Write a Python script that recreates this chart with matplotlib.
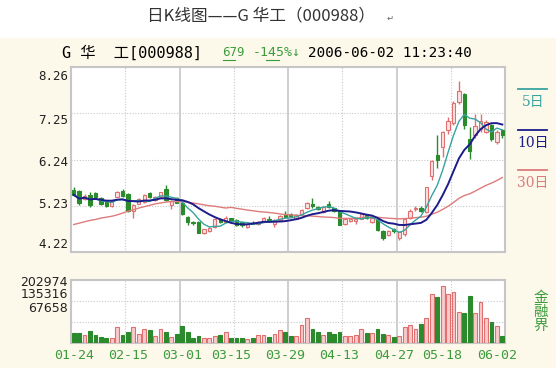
import matplotlib
matplotlib.use("Agg")
import matplotlib.pyplot as plt
import pandas as pd
from matplotlib.lines import Line2D
from matplotlib.patches import Rectangle

plt.rcParams['font.family'] = ['DejaVu Sans', 'Noto Sans CJK SC']

# daily bars 01-24 .. 06-02, 80 sessions
opens = [5.58, 5.55, 5.37, 5.47, 5.50, 5.41, 5.32, 5.22, 5.43, 5.56,
         5.48, 5.11, 5.27, 5.32, 5.50, 5.36, 5.42, 5.59, 5.25, 5.40,
         5.30, 4.98, 4.87, 4.88, 4.63, 4.68, 4.76, 4.95, 4.88, 4.96,
         4.92, 4.87, 4.76, 4.86, 4.83, 4.88, 4.94, 4.84, 4.92, 5.06,
         5.05, 4.95, 5.03, 5.18, 5.26, 5.21, 5.09, 5.26, 5.18, 5.11,
         4.84, 4.89, 4.90, 4.95, 5.03, 4.88, 4.93, 4.68, 4.60, 4.72,
         4.52, 4.62, 4.97, 5.15, 5.19, 5.10, 5.88, 6.34, 6.52, 6.88,
         7.03, 7.50, 7.68, 6.68, 6.78, 6.90, 6.85, 6.99, 6.63, 6.88]
highs = [5.65, 5.58, 5.48, 5.52, 5.52, 5.43, 5.34, 5.34, 5.56, 5.60,
         5.50, 5.27, 5.39, 5.49, 5.53, 5.45, 5.54, 5.69, 5.35, 5.42,
         5.31, 5.00, 4.89, 4.89, 4.73, 4.76, 4.96, 4.97, 5.00, 4.97,
         4.94, 4.89, 4.86, 4.90, 4.89, 4.98, 5.00, 4.93, 5.02, 5.12,
         5.08, 5.05, 5.15, 5.31, 5.41, 5.23, 5.22, 5.33, 5.19, 5.13,
         4.96, 4.97, 4.97, 5.07, 5.05, 4.98, 4.95, 4.70, 4.71, 4.75,
         4.68, 4.96, 5.15, 5.23, 5.22, 5.65, 6.22, 6.77, 6.86, 7.17,
         7.52, 7.96, 7.70, 6.95, 7.24, 7.24, 7.10, 7.02, 6.88, 6.90]
lows = [5.44, 5.25, 5.35, 5.20, 5.40, 5.24, 5.21, 5.20, 5.42, 5.43,
        5.09, 4.96, 5.26, 5.30, 5.41, 5.34, 5.40, 5.34, 5.16, 5.28,
        5.02, 4.82, 4.82, 4.63, 4.61, 4.66, 4.75, 4.85, 4.87, 4.88,
        4.78, 4.77, 4.74, 4.83, 4.81, 4.87, 4.90, 4.77, 4.91, 4.98,
        4.98, 4.93, 5.01, 5.16, 5.19, 5.14, 5.07, 5.18, 5.10, 4.80,
        4.82, 4.88, 4.84, 4.93, 4.93, 4.85, 4.67, 4.48, 4.58, 4.64,
        4.49, 4.58, 4.95, 5.12, 5.10, 5.08, 5.80, 6.05, 6.30, 6.80,
        7.00, 7.45, 6.90, 6.26, 6.72, 6.85, 6.82, 6.65, 6.58, 6.70]
closes = [5.47, 5.30, 5.45, 5.25, 5.43, 5.26, 5.23, 5.33, 5.54, 5.45,
          5.11, 5.25, 5.37, 5.47, 5.43, 5.43, 5.52, 5.36, 5.34, 5.30,
          5.04, 4.88, 4.85, 4.64, 4.72, 4.75, 4.94, 4.87, 4.97, 4.90,
          4.80, 4.80, 4.84, 4.84, 4.87, 4.96, 4.92, 4.92, 5.00, 4.99,
          5.00, 5.03, 5.13, 5.29, 5.22, 5.16, 5.20, 5.20, 5.12, 4.82,
          4.94, 4.95, 4.95, 5.05, 4.96, 4.96, 4.70, 4.52, 4.68, 4.68,
          4.66, 4.93, 5.12, 5.19, 5.12, 5.63, 6.20, 6.23, 6.83, 7.08,
          7.48, 7.74, 6.99, 6.42, 6.98, 7.08, 7.05, 6.68, 6.84, 6.78]
volumes = [33800, 33800, 25000, 38000, 25000, 20000, 17000, 15000, 51000, 25000,
           34000, 51000, 30000, 46000, 42000, 22000, 46000, 34000, 20000, 30000,
           56000, 34000, 15000, 24000, 16000, 16000, 24000, 25000, 34000, 16000,
           16000, 16000, 13000, 17000, 25000, 27000, 20000, 30000, 41000, 34000,
           24000, 24000, 57000, 80000, 46000, 34000, 27000, 34000, 29000, 36000,
           23000, 23000, 27000, 44000, 33000, 33000, 46000, 29000, 27000, 20000,
           24000, 50000, 57000, 46000, 62000, 80000, 157000, 149000, 183000, 157000,
           165000, 101000, 97000, 153000, 97000, 131000, 79000, 68000, 54000, 24000]
# 30-day average for the first 29 sessions (its history is off the chart)
ma30_head = [4.82, 4.85, 4.88, 4.91, 4.93, 4.96, 4.98, 5.00, 5.03, 5.07,
             5.11, 5.14, 5.18, 5.21, 5.24, 5.27, 5.29, 5.31, 5.32, 5.32,
             5.32, 5.31, 5.29, 5.27, 5.25, 5.23, 5.22, 5.20, 5.18]

date_labels = ['01-24', '02-15', '03-01', '03-15', '03-29',
               '04-13', '04-27', '05-18', '06-02']
date_pos = [0, 10, 20, 29, 39, 49, 59, 68, 78]
price_labels = ['8.26', '7.25', '6.24', '5.23', '4.22']
vol_labels = ['202974', '135316', '67658']

W, H = 556, 378
UP_EDGE, UP_FILL, DOWN = '#e07070', '#fbe3e3', '#2b8a2b'
C5, C10, C30 = '#37a3a0', '#1c1c8a', '#de7b7b'
GREEN_TXT = '#3c9c3c'
FRAME = '#c6c6c6'


def fx(px):
    return px / W


def fy(py):
    return 1 - py / H


def style_frame(ax):
    ax.set_facecolor('white')
    for s in ax.spines.values():
        s.set_color(FRAME)
        s.set_linewidth(1.5)
    ax.set_yticks([])


def draw_grid(ax, hvals):
    for k in range(1, 8):
        x = -0.5 + 10 * k
        if k % 2 == 0:
            ax.axvline(x, color=FRAME, lw=1.2, zorder=0)
        else:
            ax.axvline(x, color='#c8c8c8', lw=0.8, ls=(0, (1, 1.5)), zorder=0)
    for v in hvals:
        ax.axhline(v, color='#c8c8c8', lw=0.8, ls=(0, (1, 1.5)), zorder=0)


c = pd.Series(closes)
ma5 = c.rolling(5, min_periods=1).mean()
ma10 = c.rolling(10, min_periods=1).mean()
ma30 = c.rolling(30).mean()
ma30.iloc[:len(ma30_head)] = ma30_head

idx = list(range(len(closes)))
up = [cl >= op for op, cl in zip(opens, closes)]

fig = plt.figure(figsize=(W / 100, H / 100), dpi=100)
fig.patch.set_facecolor('white')
fig.add_artist(Rectangle((0, fy(368)), 1, 330 / H, transform=fig.transFigure,
                         facecolor='#fcf8ea', edgecolor='none', zorder=-10))

fig.text(fx(261), fy(16), '日K线图——G 华工（000988）', ha='center', va='center',
         fontsize=12, color='#333333', family=['Noto Sans CJK SC', 'DejaVu Sans'])
fig.text(fx(390), fy(18), '↵', ha='center', va='center', fontsize=6, color='#666666')

# header row
mono_cjk = ['DejaVu Sans Mono', 'Noto Sans CJK SC']
fig.text(fx(62), fy(53), 'G 华  工[000988]', va='center', fontsize=11, family=mono_cjk)
fig.text(fx(222), fy(53), '679', va='center', fontsize=8.5, color=GREEN_TXT)
fig.text(fx(253), fy(53), '-145%↓', va='center', fontsize=9.5, color=GREEN_TXT,
         family='DejaVu Sans Mono')
fig.text(fx(308), fy(53), '2006-06-02 11:23:40', va='center', fontsize=10.3,
         family='DejaVu Sans Mono')
fig.add_artist(Line2D([fx(223), fx(235)], [fy(60), fy(60)], color=GREEN_TXT, lw=0.8))
fig.add_artist(Line2D([fx(266), fx(279)], [fy(60), fy(60)], color=GREEN_TXT, lw=0.8))

# price panel
ax = fig.add_axes([fx(71), fy(252), 434 / W, 185 / H])
style_frame(ax)
ax.set_xticks([])
ax.set_xlim(-0.5, 79.5)
ax.set_ylim(4.22, 8.26)
draw_grid(ax, [5.23, 6.24, 7.25])

ax.vlines(idx, lows, highs, colors=[UP_EDGE if u else DOWN for u in up], lw=1, zorder=2)
bottoms = [min(o, cl) for o, cl in zip(opens, closes)]
heights = [max(abs(cl - o), 0.012) for o, cl in zip(opens, closes)]
ax.bar(idx, heights, bottom=bottoms, width=0.62,
       color=[UP_FILL if u else DOWN for u in up],
       edgecolor=[UP_EDGE if u else DOWN for u in up], lw=0.8, zorder=3)

ax.plot(idx, ma30, color=C30, lw=1.0, zorder=4)
ax.plot(idx, ma5, color=C5, lw=1.0, zorder=4)
ax.plot(idx, ma10, color=C10, lw=1.4, zorder=5)

for lab, py in zip(price_labels, [77, 121, 163, 204, 245]):
    fig.text(fx(68), fy(py), lab, ha='right', va='center', fontsize=9,
             family='DejaVu Sans Mono', color='#222222')

# moving average key
for lab, col, py in zip(['5日', '10日', '30日'], [C5, C10, C30], [89, 130, 170]):
    fig.add_artist(Line2D([fx(518), fx(547)], [fy(py), fy(py)], color=col, lw=1.3))
    fig.text(fx(533), fy(py + 13), lab, ha='center', va='center', fontsize=10,
             color=col, family=['DejaVu Serif', 'Noto Sans CJK SC'])

# volume panel
axv = fig.add_axes([fx(71), fy(343), 434 / W, 63 / H])
style_frame(axv)
axv.set_xlim(-0.5, 79.5)
axv.set_ylim(0, 202974)
draw_grid(axv, [67658, 135316])
axv.bar(idx, volumes, width=0.7,
        color=['#f8caca' if u else DOWN for u in up],
        edgecolor=[UP_EDGE if u else DOWN for u in up], lw=0.8, zorder=3)
axv.set_xticks(date_pos, date_labels)
axv.tick_params(axis='x', length=0, pad=4, labelcolor=GREEN_TXT, labelsize=9.5)
for t in axv.get_xticklabels():
    t.set_family('DejaVu Sans Mono')

for lab, py in zip(vol_labels, [283, 295, 308]):
    fig.text(fx(68), fy(py), lab, ha='right', va='center', fontsize=9,
             color='#222222')

fig.text(fx(541), fy(312), '金\n融\n界', ha='center', va='center', fontsize=10.5,
         color=GREEN_TXT, linespacing=1.0, family=['Noto Sans CJK SC'])

fig.savefig('out.png', dpi=100)
